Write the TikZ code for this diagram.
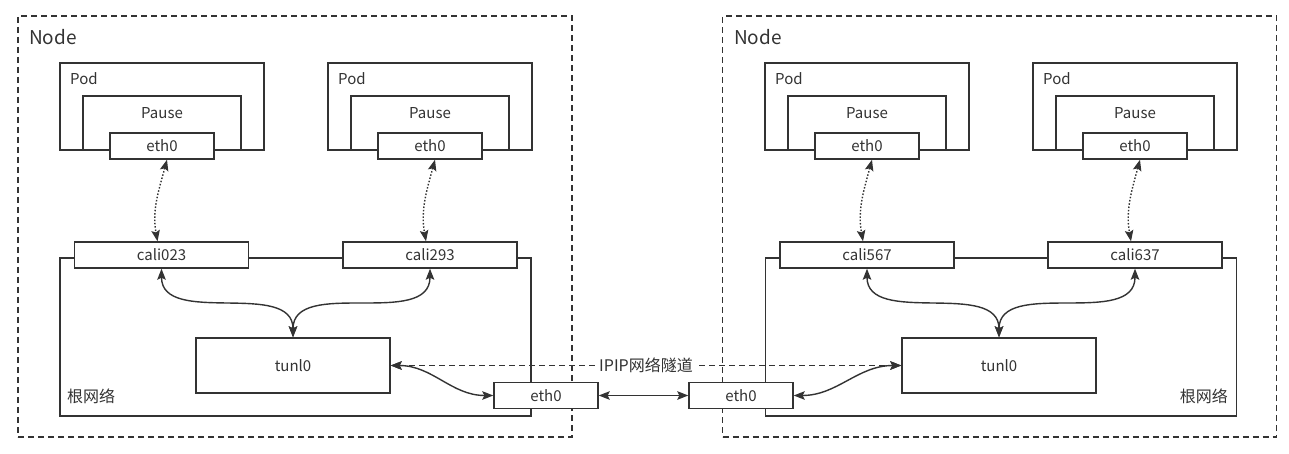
\documentclass[tikz,border=0pt]{standalone}
\usepackage{fontspec}
\setmainfont{Noto Sans CJK SC}
\usetikzlibrary{arrows.meta}
\definecolor{ink}{HTML}{333333}

\tikzset{
  box/.style={draw=ink, line width=1.4pt, fill=white, rectangle, inner sep=0pt, text=ink, font=\fontsize{15}{17}\selectfont},
  frame/.style={draw=ink, line width=1.3pt, dash pattern=on 6pt off 4pt, minimum width=554pt, minimum height=421pt},
  podbox/.style={box, minimum width=204pt, minimum height=87pt},
  pausebox/.style={box, minimum width=158pt, minimum height=54pt},
  port/.style={box, minimum width=104pt, minimum height=26pt},
  cali/.style={box, minimum width=174pt, minimum height=26pt},
  rootbox/.style={box, minimum width=471pt, minimum height=158pt},
  tunl/.style={box, minimum width=194pt, minimum height=55pt},
  txt/.style={text=ink, font=\fontsize{15}{17}\selectfont, inner sep=0pt},
  cjk/.style={txt, font=\fontsize{16}{18}\selectfont},
  big/.style={txt, font=\fontsize{19}{22}\selectfont, anchor=west},
  link/.style={draw=ink, line width=1.4pt, {Stealth[length=11pt,width=8.5pt,inset=2pt]}-{Stealth[length=11pt,width=8.5pt,inset=2pt]}},
  veth/.style={link, dash pattern=on 1.5pt off 1.8pt}
}

\begin{document}
\begin{tikzpicture}[x=1pt, y=-1pt]
\useasboundingbox (0,0) rectangle (1289,454);
% Define the nodes
\node[frame] at (295,226.5) (nodeL) {};
\node[frame] at (999.5,226.5) (nodeR) {};
\node[big] at (29,37) (nodeLlbl) {Node};
\node[big] at (734,37) (nodeRlbl) {Node};
% pods, left node
\node[podbox] at (162,106.5) (pod1) {};
\node[txt, anchor=west] at (70,79) (pod1lbl) {Pod};
\node[pausebox] at (162,123) (pause1) {};
\node[txt] at (162,113) (pause1lbl) {Pause};
\node[port] at (162,146) (pe1) {eth0};
\node[podbox] at (430,106.5) (pod2) {};
\node[txt, anchor=west] at (338,79) (pod2lbl) {Pod};
\node[pausebox] at (430,123) (pause2) {};
\node[txt] at (430,113) (pause2lbl) {Pause};
\node[port] at (430,146) (pe2) {eth0};
% pods, right node
\node[podbox] at (867,106.5) (pod3) {};
\node[txt, anchor=west] at (775,79) (pod3lbl) {Pod};
\node[pausebox] at (867,123) (pause3) {};
\node[txt] at (867,113) (pause3lbl) {Pause};
\node[port] at (867,146) (pe3) {eth0};
\node[podbox] at (1135,106.5) (pod4) {};
\node[txt, anchor=west] at (1043,79) (pod4lbl) {Pod};
\node[pausebox] at (1135,123) (pause4) {};
\node[txt] at (1135,113) (pause4lbl) {Pause};
\node[port] at (1135,146) (pe4) {eth0};
% root networks
\node[rootbox] at (295.5,337) (rootL) {};
\node[cjk, anchor=west] at (67,396) (rootLlbl) {根网络};
\node[cali] at (161.5,255) (cali1) {cali023};
\node[cali] at (430,255) (cali2) {cali293};
\node[tunl] at (293,365.5) (tunlL) {tunl0};
\node[port] at (546,395.5) (ethL) {eth0};
\node[rootbox] at (1001,337) (rootR) {};
\node[cjk, anchor=east] at (1228,396) (rootRlbl) {根网络};
\node[cali] at (867,255) (cali3) {cali567};
\node[cali] at (1135,255) (cali4) {cali637};
\node[tunl] at (999,365.5) (tunlR) {tunl0};
\node[port] at (741,395.5) (ethR) {eth0};
% Draw the paths
\draw[veth] ([xshift=5pt]pe1.south) to[out=-105,in=100] ([xshift=-4pt]cali1.north);
\draw[veth] ([xshift=5pt]pe2.south) to[out=-105,in=100] ([xshift=-4pt]cali2.north);
\draw[veth] ([xshift=5pt]pe3.south) to[out=-105,in=100] ([xshift=-4pt]cali3.north);
\draw[veth] ([xshift=5pt]pe4.south) to[out=-105,in=100] ([xshift=-4pt]cali4.north);
\draw[link] (cali1.south) to[out=-90,in=90] (tunlL.north);
\draw[link] (cali2.south) to[out=-90,in=90] (tunlL.north);
\draw[link] (cali3.south) to[out=-90,in=90] (tunlR.north);
\draw[link] (cali4.south) to[out=-90,in=90] (tunlR.north);
\draw[link] (tunlL.east) to[out=0,in=180] (ethL.west);
\draw[link] (ethR.east) to[out=0,in=180] (tunlR.west);
\draw[link] (ethL.east) -- (ethR.west);
\draw[link, dash pattern=on 6pt off 4pt] (tunlL.east) -- (tunlR.west) node[cjk, midway, fill=white, inner sep=2pt] (ipip) {IPIP网络隧道};
\end{tikzpicture}
\end{document}
